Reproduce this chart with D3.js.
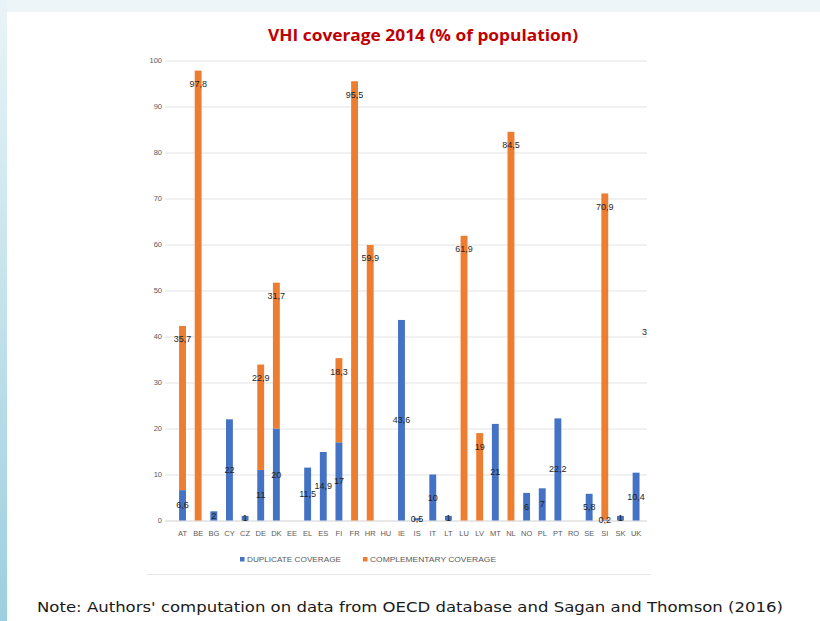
<!DOCTYPE html>
<html>
<head>
<meta charset="utf-8">
<script src="https://cdn.jsdelivr.net/npm/d3@7"></script>
<style>
  html, body { margin: 0; padding: 0; background: #ffffff; }
  svg { display: block; }
</style>
</head>
<body>
<svg id="chart" width="820" height="621"></svg>
<script>
// ---- Data ----
const categories = ["AT","BE","BG","CY","CZ","DE","DK","EE","EL","ES","FI","FR","HR","HU","IE","IS","IT","LT","LU","LV","MT","NL","NO","PL","PT","RO","SE","SI","SK","UK"];
const duplicateCoverage = [6.6,0,2,22,1,11,20,0,11.5,14.9,17,0,0,0,43.6,0.5,10,1,0,0,21,0,6,7,22.2,0,5.8,0.2,1,10.4];
const complementaryCoverage = [35.7,97.8,0,0,0,22.9,31.7,0,0,0,18.3,95.5,59.9,0,0,0,0,0,61.9,19,0,84.5,0,0,0,0,0,70.9,0,0];
const yTicks = [0,10,20,30,40,50,60,70,80,90,100];
const seriesNames = ["DUPLICATE COVERAGE","COMPLEMENTARY COVERAGE"];
const titleText = "VHI coverage 2014 (% of population)";
const noteText = "Note: Authors' computation on data from OECD database and Sagan and Thomson (2016)";

// ---- Drawing ----
const svg = d3.select("#chart");
const W = 820, H = 621;
const BLUE = "#4472C4", ORANGE = "#ED7D31";

// slide background
const defs = svg.append("defs");
const g1 = defs.append("linearGradient").attr("id","leftStrip").attr("x1",0).attr("y1",0).attr("x2",0).attr("y2",1);
g1.append("stop").attr("offset","0%").attr("stop-color","#e9f4f8");
g1.append("stop").attr("offset","100%").attr("stop-color","#9ccfdf");
defs.append("clipPath").attr("id","plotClip").append("rect")
  .attr("x",0).attr("y",0).attr("width",647).attr("height",H);

svg.append("rect").attr("x",0).attr("y",0).attr("width",W).attr("height",12).attr("fill","#edf5f8");
svg.append("rect").attr("x",0).attr("y",0).attr("width",7).attr("height",H).attr("fill","url(#leftStrip)");

const x = d3.scaleBand().domain(categories).range([174.7, 643.9]).paddingInner(0.56).paddingOuter(0.28);
const y = d3.scaleLinear().domain([0,100]).range([520.5, 60.5]);

const plot = svg.append("g").attr("clip-path","url(#plotClip)");

// gridlines
plot.append("g").selectAll("line").data(yTicks).join("line")
  .attr("x1",165).attr("x2",660)
  .attr("y1",d=>y(d)+0.5).attr("y2",d=>y(d)+0.5)
  .attr("stroke", d=> d===0 ? "#d0d0d0" : "#e3e3e3").attr("stroke-width",1);

// y axis (labels only)
const yAxis = d3.axisLeft(y).tickValues(yTicks).tickSize(0).tickPadding(0);
const yg = svg.append("g").attr("transform","translate(162,0)").call(yAxis);
yg.select(".domain").remove();
yg.selectAll("text").attr("font-family","Liberation Sans, Arial, sans-serif").attr("font-size",7.5).attr("fill","#595959");

// x axis (labels only)
const xAxis = d3.axisBottom(x).tickSize(0).tickPadding(0);
const xg = svg.append("g").attr("transform","translate(0,531)").call(xAxis);
xg.select(".domain").remove();
xg.selectAll("text").attr("font-family","Liberation Sans, Arial, sans-serif").attr("font-size",7.5).attr("fill","#595959");

// stacked data
const rows = categories.map((c,i)=>({cat:c, dup:duplicateCoverage[i], comp:complementaryCoverage[i]}));
const stack = d3.stack().keys(["dup","comp"]);
const stacked = stack(rows);
const colors = [BLUE, ORANGE];

const bw = x.bandwidth();
stacked.forEach((layer, li)=>{
  plot.append("g").selectAll("rect").data(layer.filter(d=>d[1]-d[0]>0)).join("rect")
    .attr("x", d=>x(d.data.cat))
    .attr("width", bw)
    .attr("y", d=>y(d[1]))
    .attr("height", d=>y(d[0])-y(d[1]))
    .attr("fill", colors[li]);
});

const fmt = v => String(v).replace(".", ",");
const labelFont = "Liberation Sans, Arial, sans-serif";

// duplicate labels (centered in segment)
plot.append("g").selectAll("text").data(stacked[0].filter(d=>d.data.dup>0)).join("text")
  .attr("x", d=>x(d.data.cat)+bw/2)
  .attr("y", d=>(y(d[0])+y(d[1]))/2)
  .attr("text-anchor","middle").attr("dominant-baseline","central")
  .attr("font-family",labelFont).attr("font-size",9).attr("fill","#1f1f1f")
  .text(d=>fmt(d.data.dup));

// complementary labels (inside end)
plot.append("g").selectAll("text").data(stacked[1].filter(d=>d.data.comp>0)).join("text")
  .attr("x", d=>x(d.data.cat)+bw/2)
  .attr("y", d=>y(d[1])+13.5)
  .attr("text-anchor","middle").attr("dominant-baseline","central")
  .attr("font-family",labelFont).attr("font-size",9).attr("fill","#1f1f1f")
  .text(d=>fmt(d.data.comp));

// stray clipped label at right edge
plot.append("text").attr("x",642).attr("y",y(41)).attr("dominant-baseline","central")
  .attr("font-family",labelFont).attr("font-size",9).attr("fill","#1f1f1f").text("3");

// title
svg.append("text").attr("x",423).attr("y",41).attr("text-anchor","middle")
  .attr("font-family","Open Sans, Liberation Sans, sans-serif").attr("font-weight","bold")
  .attr("font-size",16).attr("fill","#C00000")
  .attr("textLength",310).attr("lengthAdjust","spacingAndGlyphs")
  .text(titleText);

// legend
const legend = svg.append("g");
const legItems = [{name:seriesNames[0], color:BLUE, x:240, w:94},{name:seriesNames[1], color:ORANGE, x:363, w:126}];
legItems.forEach(it=>{
  legend.append("rect").attr("x",it.x).attr("y",557).attr("width",4.5).attr("height",4.5).attr("fill",it.color);
  legend.append("text").attr("x",it.x+7).attr("y",562)
    .attr("font-family",labelFont).attr("font-size",7.5).attr("fill","#595959")
    .attr("textLength",it.w).attr("lengthAdjust","spacingAndGlyphs")
    .text(it.name);
});

// chart bottom border
svg.append("line").attr("x1",147).attr("x2",650).attr("y1",574.5).attr("y2",574.5)
  .attr("stroke","#e6e6e6").attr("stroke-width",1);

// note
svg.append("text").attr("x",37).attr("y",612)
  .attr("font-family","DejaVu Sans, sans-serif").attr("font-size",14).attr("fill","#1a1a1a")
  .attr("textLength",746).attr("lengthAdjust","spacingAndGlyphs")
  .text(noteText);
</script>
</body>
</html>
